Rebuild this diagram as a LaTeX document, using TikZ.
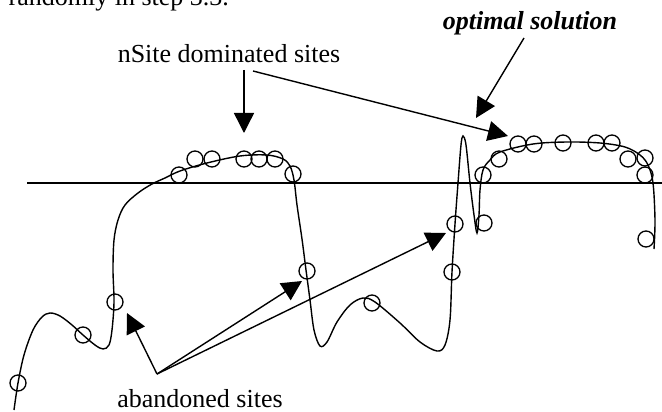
\documentclass[tikz,border=0pt]{standalone}
\usepackage{fontspec}
\setmainfont{Liberation Serif}
\usetikzlibrary{arrows.meta}
\begin{document}
\begin{tikzpicture}[x=1pt,y=-1pt,line width=1.4pt,
  site/.style={circle,draw,inner sep=0pt,minimum size=16pt,line width=1.3pt},
  lbl/.style={font=\fontsize{26}{30}\selectfont,inner sep=0pt},
  pointer/.style={-{Triangle[length=20pt,width=20pt]},line width=1.4pt}]
\useasboundingbox (0,0) rectangle (662,412);
% cut-off line of text at the top
\node[lbl,anchor=base west] (top) at (8,6) {randomly in step 3.3.};
% horizontal level
\coordinate (hl) at (27,183);
\coordinate (hr) at (662,183);
\draw (hl) -- (hr);
% landscape curve
\draw plot[smooth,tension=0.55] coordinates {
 (14,410) (18,383) (24,355) (33,330) (42,317) (50,313) (60,316) (72,325)
 (83,335) (95,345) (103,349) (109,345) (112,330) (114,302) (113,270)
 (114,240) (118,220) (125,205) (138,193) (152,184) (165,178) (180,171)
 (207,163) (240,156) (267,155) (283,159) (290,166) (294,180) (297,205)
 (302,239) (306,270) (310,300) (314,330) (320,346) (327,342) (337,322)
 (350,305) (363,298) (375,302) (400,323) (420,342) (437,351) (445,345)
 (450,320) (452,272) (455,224) (458,183) (461,145) (463,136) (466,145)
 (470,183) (474,215) (477,233) (479,215) (480,190) (483,170) (490,160)
 (500,152) (533,144) (567,142) (600,143) (625,147) (640,155) (648,165)
 (653,183) (655,220) (654,249)};
% sites
\node[site] (c1) at (18,383) {};
\node[site] (c2) at (83,335) {};
\node[site] (c3) at (115,302) {};
\node[site] (c4) at (179,175) {};
\node[site] (c5) at (195,159) {};
\node[site] (c6) at (212,159) {};
\node[site] (c7) at (244,159) {};
\node[site] (c8) at (259,159) {};
\node[site] (c9) at (275,159) {};
\node[site] (c10) at (293,174) {};
\node[site] (c11) at (307,271) {};
\node[site] (c12) at (372,303) {};
\node[site] (c13) at (452,272) {};
\node[site] (c14) at (455,224) {};
\node[site] (c15) at (484,223) {};
\node[site] (c16) at (483,175) {};
\node[site] (c17) at (499,159) {};
\node[site] (c18) at (518,144) {};
\node[site] (c19) at (534,144) {};
\node[site] (c20) at (563,143) {};
\node[site] (c21) at (596,143) {};
\node[site] (c22) at (612,143) {};
\node[site] (c23) at (628,159) {};
\node[site] (c24) at (645,158) {};
\node[site] (c25) at (645,175) {};
\node[site] (c26) at (646,239) {};
% labels
\node[lbl,anchor=base] (nsite) at (229,63) {nSite dominated sites};
\node[lbl,anchor=base,font=\fontsize{26}{30}\selectfont\bfseries\itshape] (opt) at (530,30) {optimal solution};
\node[lbl,anchor=base] (aband) at (200,407) {abandoned sites};
% pointer ends
\coordinate (n1) at (244,70);
\coordinate (n2) at (253,71);
\coordinate (o1) at (524,38);
\coordinate (a0) at (157,374);
\coordinate (t1) at (244,133);
\coordinate (t2) at (508,136);
\coordinate (t3) at (476,118);
\coordinate (t4) at (127,313);
\coordinate (t5) at (302,281);
\coordinate (t6) at (446,233);
\draw[pointer] (n1) -- (t1);
\draw[pointer] (n2) -- (t2);
\draw[pointer] (o1) -- (t3);
\draw[pointer] (a0) -- (t4);
\draw[pointer] (a0) -- (t5);
\draw[pointer] (a0) -- (t6);
\end{tikzpicture}
\end{document}
